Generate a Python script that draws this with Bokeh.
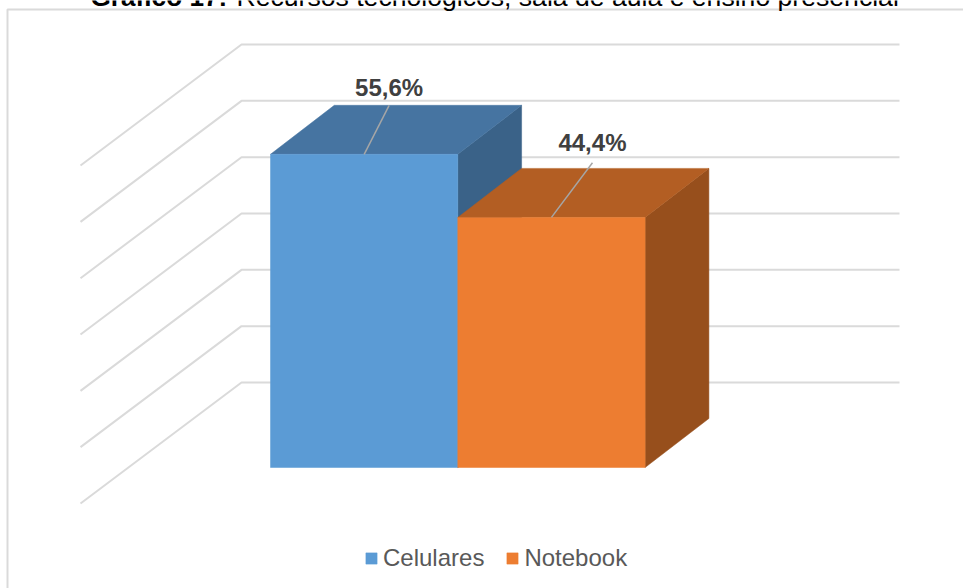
from bokeh.embed import file_html
from bokeh.models import Label, Legend, LegendItem, Range1d
from bokeh.plotting import figure
from bokeh.resources import INLINE

categories = ["Celulares", "Notebook"]
percentages = [55.6, 44.4]
grid_ticks = [0, 10, 20, 30, 40, 50, 60]

front_colors = ["#5B9BD5", "#ED7D31"]
top_colors = ["#4674A1", "#B35E23"]
side_colors = ["#3A6288", "#974F1C"]

WIDTH, HEIGHT = 963, 588

# Oblique projection: the x scale runs in pixels, the y scale in percentage points.
PX_PER_UNIT = 5.633
FLOOR_Y = 503
WALL_FRONT_X, WALL_BACK_X, WALL_END_X = 80, 241, 899
DEPTH_V = 121 / PX_PER_UNIT
BAR_NEAR, BAR_FAR = 0.2975, 0.7025
BAR_LEFT, BAR_WIDTH = 270, 187.3
BAR_DEPTH_X = 63.8
LEADER_DX = [25, 41]
LEADER_RISE_V = [0.0, 1.0]
LABEL_GAP_V = [3.2, 3.55]

p = figure(
    width=WIDTH, height=HEIGHT, output_backend="svg", toolbar_location=None,
    x_range=Range1d(0, WIDTH),
    y_range=Range1d((FLOOR_Y - HEIGHT) / PX_PER_UNIT, FLOOR_Y / PX_PER_UNIT),
    min_border=0, outline_line_color=None, background_fill_color="white",
)
p.xaxis.visible = False
p.yaxis.visible = False
p.grid.visible = False

# Chart frame, running off the top-right and bottom of the page.
to_y = lambda py: (FLOOR_Y - py) / PX_PER_UNIT
p.line([7, 7, WIDTH + 5], [to_y(HEIGHT + 5), to_y(9), to_y(9)], line_color="#DADADA", line_width=2)

# Side wall and back wall gridlines.
p.multi_line(
    xs=[[WALL_FRONT_X, WALL_BACK_X, WALL_END_X] for _ in grid_ticks],
    ys=[[v, v + DEPTH_V, v + DEPTH_V] for v in grid_ticks],
    line_color="#DADADA", line_width=2,
)

shift_v = (BAR_FAR - BAR_NEAR) * DEPTH_V
base_v = BAR_NEAR * DEPTH_V

legend_items = []
for i, (name, val) in enumerate(zip(categories, percentages)):
    x0 = BAR_LEFT + i * BAR_WIDTH
    x1 = x0 + BAR_WIDTH
    y0 = base_v
    y1 = base_v + val
    # Right side face, then the top face, then the front face.
    p.patch([x1, x1 + BAR_DEPTH_X, x1 + BAR_DEPTH_X, x1],
            [y0, y0 + shift_v, y1 + shift_v, y1],
            fill_color=side_colors[i], line_color=side_colors[i], line_width=0.5)
    p.patch([x0, x0 + BAR_DEPTH_X, x1 + BAR_DEPTH_X, x1],
            [y1, y1 + shift_v, y1 + shift_v, y1],
            fill_color=top_colors[i], line_color=top_colors[i], line_width=0.5)
    front = p.quad(left=x0, right=x1, bottom=y0, top=y1,
                   fill_color=front_colors[i], line_color=front_colors[i], line_width=0.5)
    legend_items.append(LegendItem(label=name, renderers=[front]))

    # Leader from the front edge across the top face to the value label.
    mid = (x0 + x1) / 2
    leader_top = y1 + shift_v + LEADER_RISE_V[i]
    p.line([mid, mid + LEADER_DX[i]], [y1, leader_top], line_color="#A6A6A6", line_width=1.5)
    p.text(x=[mid + LEADER_DX[i]], y=[leader_top + LABEL_GAP_V[i]],
           text=[f"{val:.1f}".replace(".", ",") + "%"],
           text_align="center", text_baseline="alphabetic",
           text_font={"value": "Liberation Sans"}, text_font_size="24px",
           text_font_style="bold", text_color="#404040")

legend = Legend(
    items=legend_items, orientation="horizontal", location=(364, 16),
    glyph_width=14, glyph_height=14, label_text_font="Liberation Sans",
    label_text_font_size="24px", label_text_color="#595959",
    label_standoff=5, spacing=21, padding=0, margin=0, border_line_color=None,
    background_fill_alpha=0,
)
p.add_layout(legend, "center")

# Heading, cut off by the top of the page.
title_bold = Label(x=90, y=HEIGHT + 4, x_units="screen", y_units="screen",
                   text="Gráfico 17:", text_font="Liberation Sans", text_baseline="alphabetic",
                   text_font_size="26.2px", text_font_style="bold", text_color="#000000")
title_rest = Label(x=236, y=HEIGHT + 4, x_units="screen", y_units="screen",
                   text="Recursos tecnológicos, sala de aula e ensino presencial",
                   text_font="Liberation Sans", text_font_size="26.6px",
                   text_baseline="alphabetic", text_color="#000000")
p.add_layout(title_bold)
p.add_layout(title_rest)

open("out.html", "w").write(file_html(p, INLINE))
